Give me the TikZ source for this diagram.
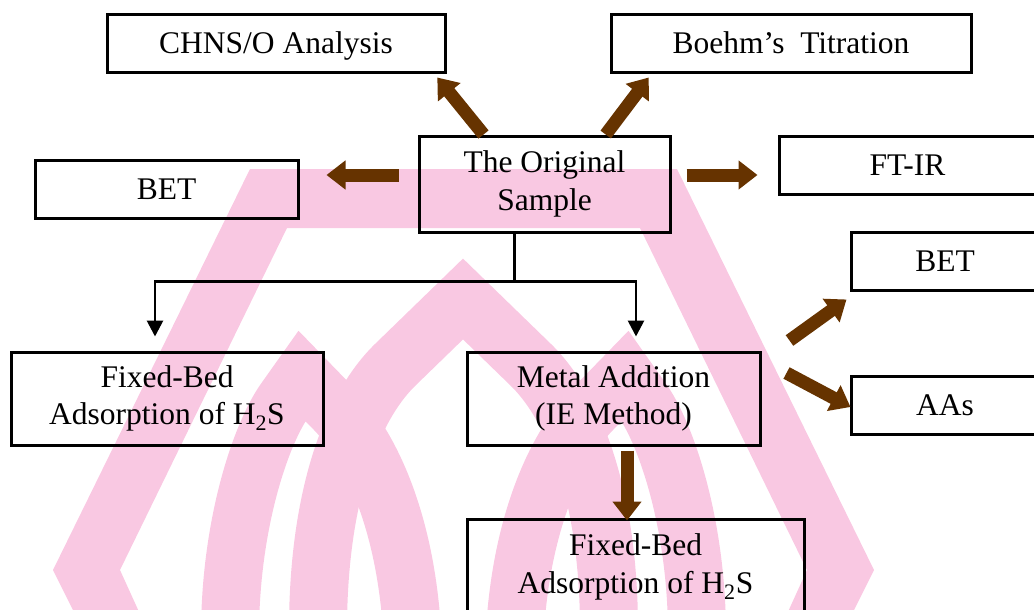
\documentclass[tikz,border=0pt]{standalone}
\usepackage{fontspec}
\setmainfont{Liberation Serif}
\usetikzlibrary{arrows.meta,calc}
\definecolor{wmpink}{RGB}{249,200,226}
\definecolor{arrbrown}{RGB}{102,51,0}
\begin{document}
\begin{tikzpicture}[x=1pt,y=-1pt,
  box/.style={draw=black, line width=3pt, inner sep=0pt, align=center,
    font=\fontsize{31.5}{37.5}\selectfont},
  single/.style={box, text height=20pt, text depth=0pt},
  barrow/.style={draw=arrbrown, line width=13pt, -{Triangle[width=28pt,length=19pt]}},
  tline/.style={draw=black, line width=2.8pt},
  tarrow/.style={tline, -{Triangle[width=16pt,length=16pt]}},
  band/.style={draw=wmpink, line width=58pt, line join=miter, miter limit=20}]
\useasboundingbox (0,0) rectangle (1034,610);
% watermark
\fill[wmpink] (250,169) -- (677,169) -- (874,570) -- (852,614) -- (787,614) -- (807,570)
  -- (640,228) -- (287,228) -- (120,570) -- (140,614) -- (75,614) -- (53,570) -- cycle;
\draw[band] (230,630) .. controls (231,520) and (262,432) .. (285,400) -- (302,376)
  -- (335,410) .. controls (370,446) and (405,520) .. (412,630);
\draw[band] (318,630) .. controls (318,500) and (350,409) .. (395,365) -- (463,299)
  -- (531,365) .. controls (576,409) and (609,500) .. (609,630);
\draw[band] (697,630) .. controls (696,520) and (665,432) .. (642,400) -- (625,376)
  -- (592,410) .. controls (557,446) and (522,520) .. (515,630);
% boxes
\node[single, minimum width=338pt, minimum height=58pt] (chns) at (276,44) {CHNS/O Analysis};
\node[single, minimum width=360pt, minimum height=58pt] (boehm) at (791,44) {Boehm’s~~Titration};
\node[box, minimum width=251pt, minimum height=96pt] (orig) at (544.5,184) {The Original\\Sample};
\node[single, minimum width=263pt, minimum height=58pt] (betL) at (166.5,189) {BET};
\node[single, minimum width=257pt, minimum height=58pt] (ftir) at (907.5,165) {FT-IR};
\node[single, minimum width=188pt, minimum height=58pt] (betR) at (945,261) {BET};
\node[single, minimum width=188pt, minimum height=58pt] (aas) at (945,405) {AAs};
\node[box, minimum width=312pt, minimum height=93pt] (fbL) at (167,398.5) {Fixed-Bed\\Adsorption of H\textsubscript{2}S};
\node[box, minimum width=293pt, minimum height=93pt] (metal) at (613.5,398.5) {Metal Addition\\(IE Method)};
\node[box, minimum width=337pt, minimum height=96pt] (fbB) at (635.5,567) {Fixed-Bed\\Adsorption of H\textsubscript{2}S};
% black tree
\coordinate (split) at ($(orig.south)+(-30,48)$);
\draw[tline] ($(orig.south)+(-30,0)$) -- (split);
\draw[tarrow] (split) -| ($(fbL.north)+(-12,-14)$);
\draw[tarrow] (split) -| ($(metal.north)+(22.5,-14)$);
% brown arrows
\draw[barrow] ($(orig.north west)!0.26!(orig.north east)$) -- ($(chns.south west)!0.973!(chns.south east)+(0,3)$);
\draw[barrow] ($(orig.north west)!0.741!(orig.north east)$) -- ($(boehm.south west)!0.108!(boehm.south east)+(0,3)$);
\draw[barrow] ($(orig.west)+(-19,-9)$) -- ($(betL.east)+(27,-14)$);
\draw[barrow] ($(orig.east)+(15,-9)$) -- ($(ftir.west)+(-20,10)$);
\draw[barrow] ($(metal.north east)+(28,-10)$) -- ($(betR.south west)+(-3,8)$);
\draw[barrow] ($(metal.east)+(25,-25.5)$) -- ($(aas.west)+(1,2)$);
\draw[barrow] ($(metal.south)+(13.5,4)$) -- ($(fbB.north)+(-8.5,3)$);
\end{tikzpicture}
\end{document}
